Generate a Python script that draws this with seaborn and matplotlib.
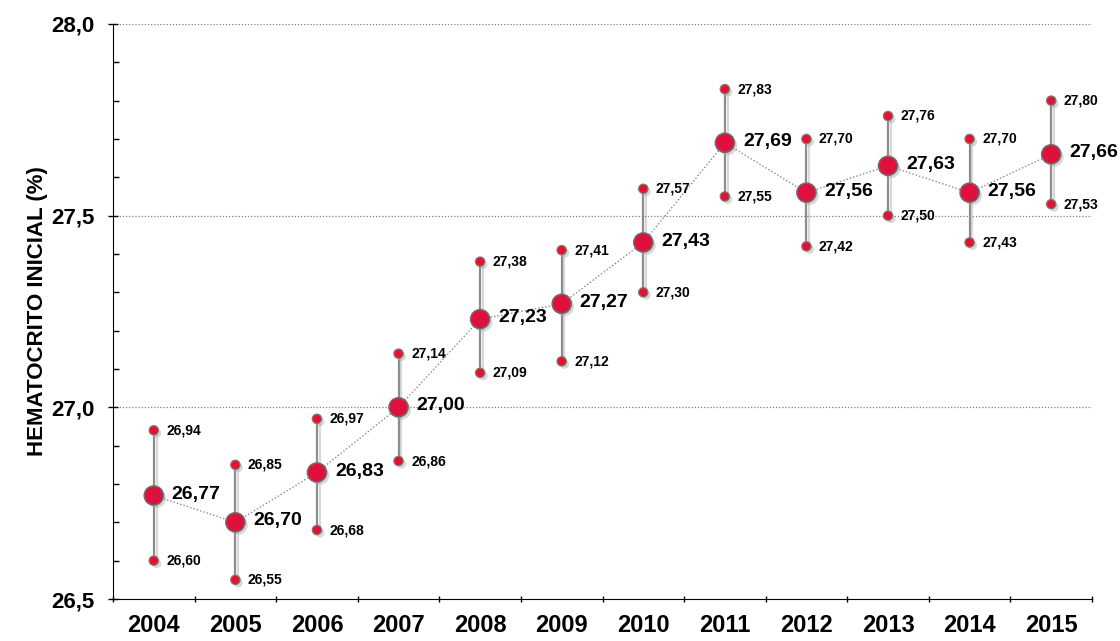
import numpy as np
import pandas as pd
import matplotlib
matplotlib.use("Agg")
import matplotlib.pyplot as plt
import matplotlib.patheffects as pe
from matplotlib.ticker import MultipleLocator, FixedLocator
import seaborn as sns

years = ['2004', '2005', '2006', '2007', '2008', '2009', '2010', '2011', '2012', '2013', '2014', '2015']
mean_vals = [26.77, 26.70, 26.83, 27.00, 27.23, 27.27, 27.43, 27.69, 27.56, 27.63, 27.56, 27.66]
upper_vals = [26.94, 26.85, 26.97, 27.14, 27.38, 27.41, 27.57, 27.83, 27.70, 27.76, 27.70, 27.80]
lower_vals = [26.60, 26.55, 26.68, 26.86, 27.09, 27.12, 27.30, 27.55, 27.42, 27.50, 27.43, 27.53]

df = pd.DataFrame({'pos': np.arange(len(years)), 'year': years,
                   'mean': mean_vals, 'upper': upper_vals, 'lower': lower_vals})

sns.set_style("ticks", {'text.color': 'black', 'axes.labelcolor': 'black',
                        'xtick.color': 'black', 'ytick.color': 'black', 'axes.edgecolor': 'black'})
plt.rcParams['font.family'] = ['Liberation Sans', 'DejaVu Sans']

fig = plt.figure(figsize=(11.2, 6.41), dpi=100)
ax = fig.add_axes([0.1009, 0.0655, 0.8741, 0.8971])

shadow = [pe.SimplePatchShadow(offset=(2, -2), shadow_rgbFace='#aaaaaa', alpha=0.45), pe.Normal()]

# dotted grid
for yv in [27.0, 27.5, 28.0]:
    ax.axhline(yv, color='#808080', lw=0.9, ls=(0, (1, 1.5)), zorder=0)

# error bars
for _, r in df.iterrows():
    ax.plot([r['pos'], r['pos']], [r['lower'], r['upper']], color='#8c8c8c', lw=1.6,
            zorder=2, path_effects=[pe.SimpleLineShadow(offset=(2, -2), alpha=0.15), pe.Normal()])

# mean line
sns.lineplot(data=df, x='pos', y='mean', color='#8a8a8a', lw=1, ls=(0, (1, 1.5)), ax=ax, zorder=1)

# small end points
for col in ['upper', 'lower']:
    sns.scatterplot(data=df, x='pos', y=col, s=45, color='#e8102e', edgecolor='#7a7a7a',
                    linewidth=0.9, ax=ax, zorder=3)
# big mean points
sns.scatterplot(data=df, x='pos', y='mean', s=190, color='#e0103c', edgecolor='#6e6e6e',
                linewidth=1.1, ax=ax, zorder=4)
for coll in ax.collections:
    coll.set_path_effects(shadow)

def fmt(v):
    return f"{v:.2f}".replace('.', ',')

for _, r in df.iterrows():
    ax.annotate(fmt(r['mean']), (r['pos'], r['mean']), xytext=(13, 1), textcoords='offset points',
                fontsize=14, fontweight='bold', va='center', ha='left', color='black', zorder=5)
    ax.annotate(fmt(r['upper']), (r['pos'], r['upper']), xytext=(9, 0), textcoords='offset points',
                fontsize=10, fontweight='bold', va='center', ha='left', color='black', zorder=5)
    ax.annotate(fmt(r['lower']), (r['pos'], r['lower']), xytext=(9, 0), textcoords='offset points',
                fontsize=10, fontweight='bold', va='center', ha='left', color='black', zorder=5)

ax.set_xlim(-0.5, len(years) - 0.5)
ax.set_ylim(26.5, 28.0)

ax.set_xticks(np.arange(len(years)))
ax.set_xticklabels(years, fontsize=17, fontweight='bold')
ax.xaxis.set_minor_locator(FixedLocator(np.arange(-0.5, len(years), 1.0)))
ax.tick_params(axis='x', which='major', length=0, pad=11)
ax.tick_params(axis='x', which='minor', length=5, direction='inout', width=1)

ax.yaxis.set_major_locator(MultipleLocator(0.5))
ax.yaxis.set_minor_locator(MultipleLocator(0.1))
ax.set_yticklabels([fmt(v)[:-1] for v in ax.get_yticks()], fontsize=16, fontweight='bold')
ax.tick_params(axis='y', which='major', length=7, direction='inout', width=1, pad=10)
ax.tick_params(axis='y', which='minor', length=4, direction='in', width=1)

ax.set_xlabel('')
ax.set_ylabel('HEMATOCRITO INICIAL (%)', fontsize=16, fontweight='bold', labelpad=2)

sns.despine(ax=ax)

fig.savefig('out.png', dpi=100)
